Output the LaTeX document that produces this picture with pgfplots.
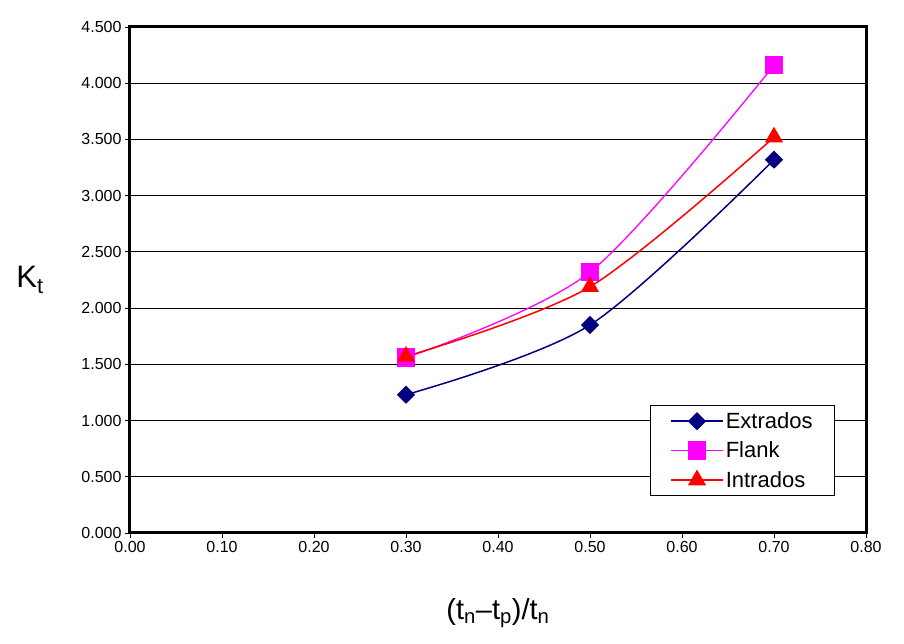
\documentclass[border=0pt]{standalone}
\usepackage{pgfplots}
\pgfplotsset{compat=1.18}
\usepackage{fontspec}
\setmainfont{Liberation Sans}
\definecolor{extra}{HTML}{000080}
\definecolor{flank}{HTML}{FF00FF}
\definecolor{intra}{HTML}{FF0000}

\begin{document}
\begin{tikzpicture}
\begin{axis}[
  scale only axis,
  width=736pt, height=506pt,
  xmin=0, xmax=0.8, ymin=0, ymax=4.5,
  xtick={0,0.1,...,0.8},
  ytick={0,0.5,...,4.5},
  axis line style={line width=3pt},
  tick style={black, line width=0.8pt},
  tick align=outside,
  major tick length=5pt,
  xtick pos=bottom, ytick pos=left,
  ymajorgrids,
  grid style={black, line width=1.2pt},
  /pgf/number format/assume math mode=true,
  xticklabel style={/pgf/number format/.cd, fixed, fixed zerofill, precision=2},
  yticklabel style={/pgf/number format/.cd, fixed, fixed zerofill, precision=3},
  tick label style={font=\fontsize{16}{18}\selectfont},
  xlabel={(t\textsubscript{n}--t\textsubscript{p})/t\textsubscript{n}},
  xlabel style={font=\fontsize{29}{33}\selectfont, at={(rel axis cs:0.5,0)}, anchor=north, yshift=-62pt},
  ylabel={K\textsubscript{t}},
  ylabel style={font=\fontsize{31}{35}\selectfont, rotate=-90, at={(rel axis cs:0,0.5)}, anchor=center, xshift=-100pt},
  legend style={at={(rel axis cs:0.958,0.253)}, anchor=north east,
    draw=black, line width=1pt, font=\fontsize{22}{26}\selectfont,
    row sep=8pt, inner xsep=20pt, inner ysep=5pt},
  legend cell align=left,
  legend image code/.code={
    \draw[mark repeat=2, mark phase=2, #1, line width=1.5pt] plot coordinates {(0pt,0pt) (26pt,0pt) (52pt,0pt)};},
]
\addplot[extra, line width=1.5pt, smooth, tension=0.5, mark=diamond*, mark size=8pt, mark options={solid, xscale=1.35}]
  coordinates {(0.3,1.23) (0.5,1.85) (0.7,3.32)};
\addlegendentry{Extrados}
\addplot[flank, line width=1.3pt, smooth, tension=0.5, mark=square*, mark size=8.5pt]
  coordinates {(0.3,1.56) (0.5,2.32) (0.7,4.16)};
\addlegendentry{Flank}
\addplot[intra, line width=1.5pt, smooth, tension=0.5, mark=triangle*, mark size=9pt]
  coordinates {(0.3,1.57) (0.5,2.19) (0.7,3.52)};
\addlegendentry{Intrados}
\end{axis}
\pgfresetboundingbox
\useasboundingbox (-130pt,-111pt) rectangle (774pt,533pt);
\end{tikzpicture}
\end{document}
